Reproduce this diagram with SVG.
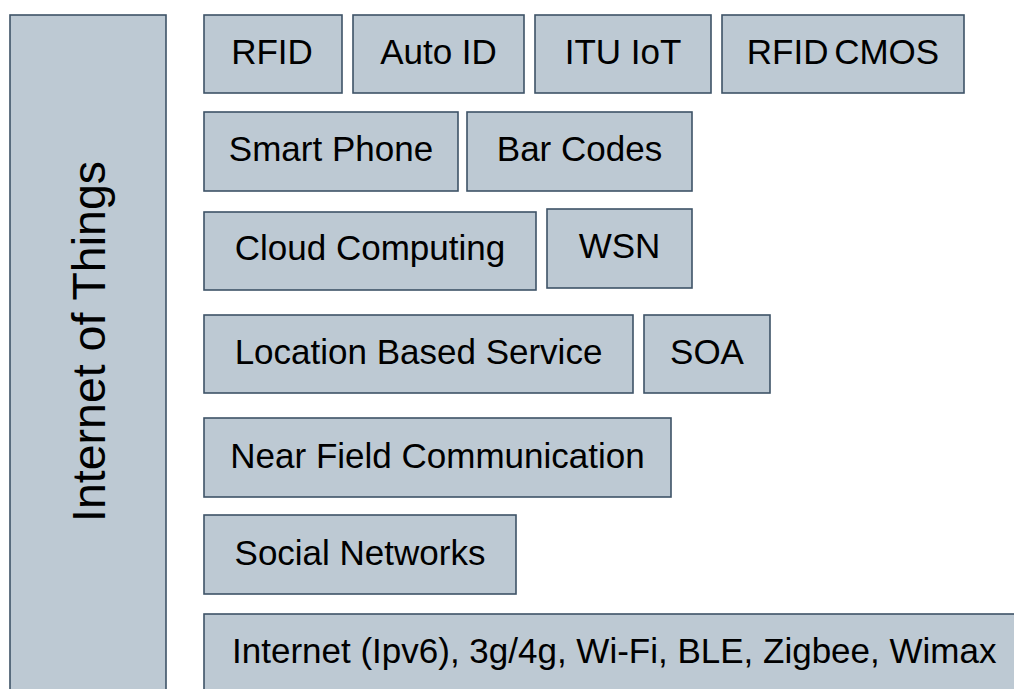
<svg xmlns="http://www.w3.org/2000/svg" width="1014" height="689" viewBox="0 0 1014 689">
  <style>
    .box { fill: #bdc9d3; stroke: #3e5367; stroke-width: 1.6; }
    .lbl { font-family: "Liberation Sans", Arial, Helvetica, sans-serif; font-size: 35px; fill: #000; text-anchor: middle; }
    .lbl-left { text-anchor: start; }
    .title { font-family: "Liberation Sans", Arial, Helvetica, sans-serif; font-size: 46.5px; fill: #000; text-anchor: middle; }
  </style>
  <rect width="1014" height="689" fill="#ffffff"/>

  <g id="iot">
    <rect class="box" x="10" y="15" width="156" height="700"/>
    <text class="title" transform="translate(105,341.5) rotate(-90)">Internet of Things</text>
  </g>

  <g id="rfid">
    <rect class="box" x="204" y="15" width="138" height="78"/>
    <text class="lbl" x="272" y="64">RFID</text>
  </g>
  <g id="auto-id">
    <rect class="box" x="353" y="15" width="171" height="78"/>
    <text class="lbl" x="438.5" y="64">Auto ID</text>
  </g>
  <g id="itu-iot">
    <rect class="box" x="535" y="15" width="176" height="78"/>
    <text class="lbl" x="623" y="64">ITU IoT</text>
  </g>
  <g id="rfid-cmos">
    <rect class="box" x="722" y="15" width="242" height="78"/>
    <text class="lbl" x="843" y="64" word-spacing="-4">RFID CMOS</text>
  </g>

  <g id="smart-phone">
    <rect class="box" x="204" y="112" width="254" height="79"/>
    <text class="lbl" x="331" y="161">Smart Phone</text>
  </g>
  <g id="bar-codes">
    <rect class="box" x="467" y="112" width="225" height="79"/>
    <text class="lbl" x="579.5" y="161">Bar Codes</text>
  </g>

  <g id="cloud-computing">
    <rect class="box" x="204" y="212" width="332" height="78"/>
    <text class="lbl" x="370" y="260">Cloud Computing</text>
  </g>
  <g id="wsn">
    <rect class="box" x="547" y="209" width="145" height="79"/>
    <text class="lbl" x="619.5" y="258">WSN</text>
  </g>

  <g id="lbs">
    <rect class="box" x="204" y="315" width="429" height="78"/>
    <text class="lbl" x="418.5" y="364">Location Based Service</text>
  </g>
  <g id="soa">
    <rect class="box" x="644" y="315" width="126" height="78"/>
    <text class="lbl" x="707" y="364">SOA</text>
  </g>

  <g id="nfc">
    <rect class="box" x="204" y="418" width="467" height="79"/>
    <text class="lbl" x="437.5" y="468">Near Field Communication</text>
  </g>

  <g id="social-networks">
    <rect class="box" x="204" y="515" width="312" height="79"/>
    <text class="lbl" x="360" y="565">Social Networks</text>
  </g>

  <g id="network-layer">
    <rect class="box" x="204" y="614" width="830" height="100"/>
    <text class="lbl lbl-left" x="232" y="663">Internet (Ipv6), 3g/4g, Wi-Fi, BLE, Zigbee, Wimax</text>
  </g>

  <g id="connectors"></g>
</svg>
